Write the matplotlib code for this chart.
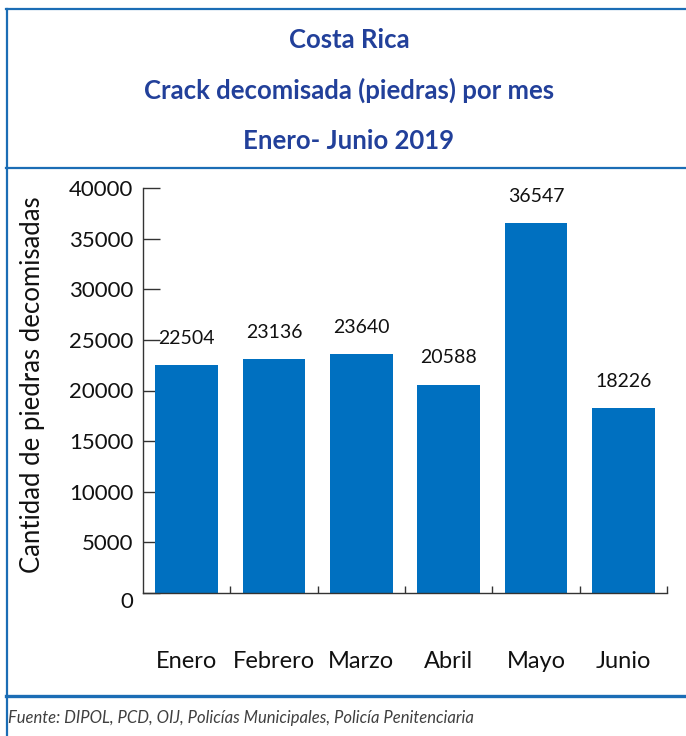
import matplotlib
matplotlib.use("Agg")
import matplotlib.pyplot as plt
from matplotlib.lines import Line2D
import matplotlib.transforms as mtransforms

# data
months = ["Enero", "Febrero", "Marzo", "Abril", "Mayo", "Junio"]
piedras = [22504, 23136, 23640, 20588, 36547, 18226]
y_ticks = [0, 5000, 10000, 15000, 20000, 25000, 30000, 35000, 40000]

title_lines = ["Costa Rica", "Crack decomisada (piedras) por mes", "Enero- Junio 2019"]
y_label = "Cantidad de piedras decomisadas"
source = "Fuente: DIPOL, PCD, OIJ, Policías Municipales, Policía Penitenciaria"

# colours
bar_color = "#0070c0"
frame_color = "#1b6db5"
title_color = "#22409a"
text_color = "#111111"

plt.rcParams["font.family"] = ["Lato", "DejaVu Sans"]

W, H = 686, 736
fig = plt.figure(figsize=(W / 100, H / 100), dpi=100)

def fx(px):
    return px / W

def fy(py):
    return 1 - py / H

# -----------------------------
# frame around the chart
# -----------------------------
for (x0, y0, x1, y1, lw) in [
    (6, 9, 686, 9, 1.6),       # top
    (6, 168, 686, 168, 1.6),   # under the title
    (6, 696, 686, 696, 2.4),   # above the source
    (6.5, 9, 6.5, 736, 1.6),   # left side
]:
    fig.add_artist(Line2D([fx(x0), fx(x1)], [fy(y0), fy(y1)],
                          color=frame_color, lw=lw, transform=fig.transFigure))

# title block
for txt, ypx in zip(title_lines, [40, 90, 141]):
    fig.text(fx(349), fy(ypx), txt, ha="center", va="center",
             fontsize=18.5, fontweight="bold", color=title_color)

# -----------------------------
# bar chart
# -----------------------------
ax = fig.add_axes([fx(143), fy(593), fx(667) - fx(143), fy(188) - fy(593)])
x = range(len(months))
bars = ax.bar(x, piedras, width=0.72, color=bar_color, zorder=2)

ax.set_xlim(-0.5, len(months) - 0.5)
ax.set_ylim(0, 40000)

for sp in ["top", "right"]:
    ax.spines[sp].set_visible(False)
for sp in ["left", "bottom"]:
    ax.spines[sp].set_color("#333333")
    ax.spines[sp].set_linewidth(1.0)

ax.set_yticks(y_ticks)
ax.set_yticklabels([str(v) for v in y_ticks])
ax.tick_params(axis="y", direction="in", length=12, width=1.0, color="#333333",
               pad=7, labelsize=16, labelcolor=text_color)

ax.set_xticks(list(x))
ax.set_xticklabels(months)
ax.tick_params(axis="x", which="major", length=0, pad=42, labelsize=17,
               labelcolor=text_color)
ax.set_xticks([i + 0.5 for i in x], minor=True)
ax.tick_params(axis="x", which="minor", direction="in", length=5, width=1.0,
               color="#333333")

# the 0 label sits a bit lower than the others
zero_lbl = ax.get_yticklabels()[0]
zero_lbl.set_transform(zero_lbl.get_transform() +
                       mtransforms.ScaledTranslation(0, -7 / 100, fig.dpi_scale_trans))

for i, v in enumerate(piedras):
    ax.annotate(str(v), (i, v), xytext=(0, 13), textcoords="offset points",
                ha="center", va="bottom", fontsize=14, color=text_color)

fig.text(fx(33), fy(385), y_label, rotation=90, ha="center", va="center",
         fontsize=18.5, color=text_color)

# source
fig.text(fx(8), fy(718), source, ha="left", va="center", fontsize=12,
         fontstyle="italic", color="#404040")

fig.savefig("out.png", dpi=100)
